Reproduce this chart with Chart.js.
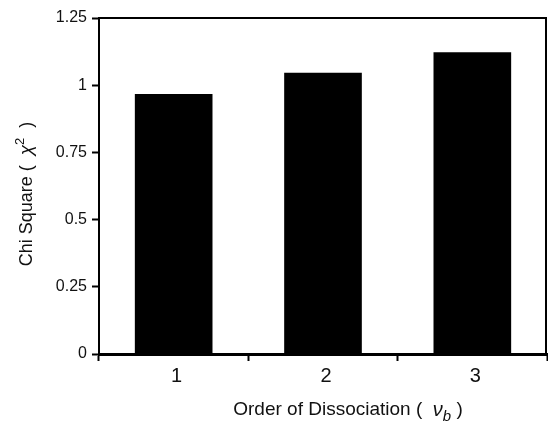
<!DOCTYPE html>
<html>
<head>
<meta charset="utf-8">
<script src="https://cdn.jsdelivr.net/npm/chart.js@4"></script>
<style>
  body { margin: 0; background: #fff; }
  #wrap { width: 548px; height: 427px; }
</style>
</head>
<body>
<div id="wrap"><canvas id="chiChart"></canvas></div>
<script>
const orders = ['1', '2', '3'];
const chiSquare = [0.967, 1.046, 1.123];
const chiTicks = [0, 0.25, 0.5, 0.75, 1, 1.25];

const FONT = '"Liberation Sans", Arial, Helvetica, sans-serif';

// text made of several runs (italic symbol, sub/superscript), centred on x,y
function drawRuns(ctx, runs, x, y, angle) {
    ctx.save();
    ctx.translate(x, y);
    ctx.rotate(angle);
    ctx.fillStyle = '#111';
    ctx.textBaseline = 'middle';
    ctx.textAlign = 'left';
    let total = 0;
    runs.forEach(r => {
        ctx.font = (r.italic ? 'italic ' : '') + r.size + 'px ' + FONT;
        r.w = ctx.measureText(r.text).width;
        total += r.w;
    });
    let pos = -total / 2;
    runs.forEach(r => {
        ctx.font = (r.italic ? 'italic ' : '') + r.size + 'px ' + FONT;
        ctx.fillText(r.text, pos, r.dy || 0);
        pos += r.w;
    });
    ctx.restore();
}

const framePlugin = {
    id: 'frame',
    afterDraw(chart) {
        const {ctx, chartArea: a} = chart;
        ctx.save();
        ctx.strokeStyle = '#000';
        ctx.lineWidth = 2;
        ctx.beginPath();
        ctx.moveTo(a.left, a.top);
        ctx.lineTo(a.right - 1, a.top);
        ctx.lineTo(a.right - 1, a.bottom);
        ctx.stroke();
        ctx.restore();

        const cx = (a.left + a.right) / 2;
        const cy = (a.top + a.bottom) / 2;
        drawRuns(ctx, [
            {text: 'Order of Dissociation (  ', size: 19},
            {text: 'ν', size: 20, italic: true},
            {text: 'b', size: 15, italic: true, dy: 7},
            {text: ' )', size: 19}
        ], cx + 25, a.bottom + 56, 0);
        drawRuns(ctx, [
            {text: 'Chi Square (  ', size: 18},
            {text: 'χ', size: 19, italic: true},
            {text: '2', size: 13, dy: -7},
            {text: '  )', size: 18}
        ], 27, cy + 8, -Math.PI / 2);
    }
};

new Chart(document.getElementById('chiChart'), {
    type: 'bar',
    data: {
        labels: orders,
        datasets: [{
            data: chiSquare,
            backgroundColor: '#000',
            borderWidth: 0,
            barPercentage: 0.52,
            categoryPercentage: 1
        }]
    },
    options: {
        responsive: true,
        maintainAspectRatio: false,
        animation: false,
        layout: { padding: { top: 18, right: 1, left: 0, bottom: 0 } },
        plugins: { legend: { display: false }, tooltip: { enabled: false } },
        scales: {
            x: {
                afterFit: s => { s.height = 73; },
                grid: {
                    offset: true,
                    drawOnChartArea: false,
                    tickLength: 7,
                    tickWidth: 2,
                    tickColor: '#000'
                },
                border: { color: '#000', width: 3 },
                ticks: {
                    color: '#111',
                    font: { family: FONT, size: 20 },
                    padding: 3,
                    labelOffset: 3
                }
            },
            y: {
                min: 0,
                max: 1.25,
                afterFit: s => { s.width = 99; },
                afterBuildTicks: s => { s.ticks = chiTicks.map(v => ({value: v})); },
                grid: {
                    drawOnChartArea: false,
                    tickLength: 7,
                    tickWidth: 2,
                    tickColor: '#000'
                },
                border: { color: '#000', width: 2 },
                ticks: {
                    color: '#111',
                    font: { family: FONT, size: 16 },
                    padding: 5,
                    callback: v => String(v)
                }
            }
        }
    },
    plugins: [framePlugin]
});
</script>
</body>
</html>
